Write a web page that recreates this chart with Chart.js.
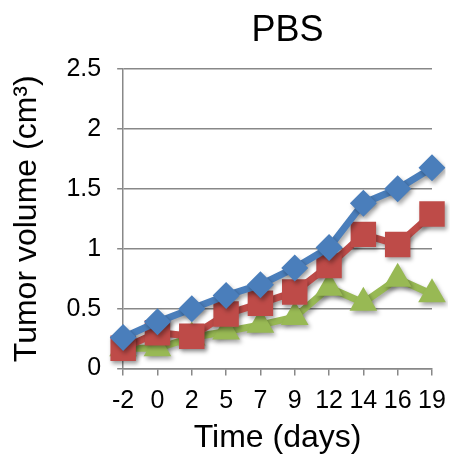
<!DOCTYPE html>
<html>
<head>
<meta charset="utf-8">
<script src="https://cdn.jsdelivr.net/npm/chart.js@4"></script>
<style>
  body { margin: 0; background: #fff; }
  #wrap { width: 450px; height: 459px; }
</style>
</head>
<body>
<div id="wrap"><canvas id="tumorChart" width="450" height="459"></canvas></div>
<script>
// Data
const days = ["-2", "0", "2", "5", "7", "9", "12", "14", "16", "19"];
const blueSeries = [0.26, 0.39, 0.50, 0.61, 0.70, 0.84, 1.01, 1.38, 1.50, 1.675];
const redSeries = [0.17, 0.30, 0.27, 0.455, 0.545, 0.64, 0.86, 1.12, 1.035, 1.29];
const greenSeries = [0.17, 0.17, 0.26, 0.31, 0.365, 0.43, 0.675, 0.55, 0.75, 0.62];
const chartTitle = "PBS";

const FONT = "'Liberation Sans', Arial, sans-serif";

// Title centred over the plot area (Excel style)
const plotTitle = {
  id: "plotTitle",
  afterDraw(chart) {
    const { ctx, chartArea } = chart;
    ctx.save();
    ctx.font = "36px " + FONT;
    ctx.fillStyle = "#000";
    ctx.textAlign = "center";
    ctx.textBaseline = "alphabetic";
    ctx.fillText(chartTitle, (chartArea.left + chartArea.right) / 2 + 10, 41);
    ctx.restore();
  },
};

// Soft drop shadow under lines and markers
const lineShadow = {
  id: "lineShadow",
  beforeDatasetsDraw(chart) {
    const ctx = chart.ctx;
    ctx.save();
    ctx.shadowColor = "rgba(0,0,0,0.35)";
    ctx.shadowBlur = 4;
    ctx.shadowOffsetX = 2;
    ctx.shadowOffsetY = 3;
  },
  afterDatasetsDraw(chart) {
    chart.ctx.restore();
  },
};

const makeSeries = (label, data, color, style, radius) => ({
  label,
  data,
  borderColor: color,
  backgroundColor: color,
  borderWidth: 7,
  pointStyle: style,
  pointRadius: radius,
  pointBorderWidth: 0,
  pointBackgroundColor: color,
  tension: 0,
});

const ctx = document.getElementById("tumorChart").getContext("2d");
const chart = new Chart(ctx, {
  type: "line",
  data: {
    labels: days,
    datasets: [
      makeSeries("Series 1", blueSeries, "#4A7EBB", "rectRot", 13.5),
      makeSeries("Series 2", redSeries, "#BE4B48", "rect", 18),
      makeSeries("Series 3", greenSeries, "#98B954", "triangle", 16),
    ],
  },
  options: {
    responsive: false,
    animation: false,
    layout: {
      padding: { top: 69, right: 18, bottom: 2, left: 8 },
    },
    plugins: {
      legend: { display: false },
      tooltip: { enabled: false },
    },
    scales: {
      x: {
        offset: false,
        afterFit: (scale) => {
          scale.paddingRight = 0;
        },
        grid: {
          drawOnChartArea: false,
          drawTicks: true,
          tickLength: 7,
          color: "#888",
          lineWidth: 1.5,
        },
        border: { color: "#888", width: 1.5 },
        ticks: {
          color: "#000",
          font: { family: FONT, size: 25 },
          padding: 11,
          maxRotation: 0,
          autoSkip: false,
        },
        title: {
          display: true,
          text: "Time (days)",
          color: "#000",
          font: { family: FONT, size: 32 },
          padding: { top: -9, bottom: 0 },
        },
      },
      y: {
        min: 0,
        max: 2.5,
        grid: {
          color: "#888",
          lineWidth: 1.5,
          tickLength: 6,
        },
        border: { color: "#888", width: 1.5 },
        ticks: {
          stepSize: 0.5,
          color: "#000",
          font: { family: FONT, size: 25 },
          padding: 16,
          callback: (v) => String(v),
        },
        title: {
          display: true,
          text: "Tumor volume (cm³)",
          color: "#000",
          font: { family: FONT, size: 32 },
          padding: { top: 0, bottom: 4 },
        },
      },
    },
  },
  plugins: [lineShadow, plotTitle],
});
</script>
</body>
</html>
